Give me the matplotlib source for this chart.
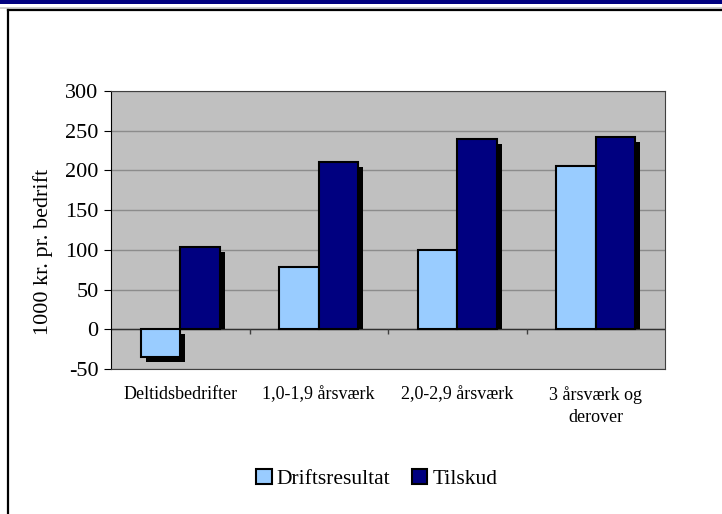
import numpy as np
import matplotlib.pyplot as plt
from matplotlib.patches import Rectangle, Patch
from matplotlib.transforms import ScaledTranslation

plt.rcParams["font.family"] = ["Liberation Serif", "DejaVu Serif"]

categories = ["Deltidsbedrifter", "1,0-1,9 årsværk", "2,0-2,9 årsværk", "3 årsværk og\nderover"]
driftsresultat = [-35, 78, 100, 205]
tilskud = [103, 211, 240, 242]
series_names = ["Driftsresultat", "Tilskud"]
series_colors = ["#99CCFF", "#000080"]
y_ticks = [-50, 0, 50, 100, 150, 200, 250, 300]

W, H = 722, 514
fig = plt.figure(figsize=(W / 100, H / 100), dpi=100)
fig.patch.set_facecolor("white")

# page decoration: navy band on top and framed chart area
fig.patches.append(Rectangle((0, 1 - 4 / H), 1, 4 / H, transform=fig.transFigure,
                             facecolor="#000080", edgecolor="none"))
fig.lines.append(plt.Line2D([0, 1], [1 - 7.5 / H, 1 - 7.5 / H], transform=fig.transFigure,
                            color="#C8C8C8", lw=1.2))
fig.lines.append(plt.Line2D([8 / W, 1], [1 - 10 / H, 1 - 10 / H], transform=fig.transFigure,
                            color="black", lw=1.6))
fig.lines.append(plt.Line2D([8 / W, 8 / W], [0, 1 - 10 / H], transform=fig.transFigure,
                            color="black", lw=1.6))

ax_l, ax_r, ax_t, ax_b = 111, 665, 91, 369
ax = fig.add_axes([ax_l / W, 1 - ax_b / H, (ax_r - ax_l) / W, (ax_b - ax_t) / H])
ax.set_facecolor("#C0C0C0")
ax.set_ylim(-50, 300)
ax.set_xlim(-0.5, len(categories) - 0.5)
ax.set_yticks(y_ticks)
ax.set_yticklabels([str(t) for t in y_ticks], fontsize=16)
ax.yaxis.grid(True, color="#8C8C8C", lw=1)
ax.set_axisbelow(True)

for s in ["top", "right", "bottom"]:
    ax.spines[s].set_color("#404040")
ax.spines["left"].set_color("black")

x = np.arange(len(categories))
bw = 1 / 3.5
px = (ax_b - ax_t) / 350.0  # pixels per data unit
d = 5 / px
shift = ax.transData + ScaledTranslation(5 / 100, 0, fig.dpi_scale_trans)

# category axis at zero with tick marks between groups
ax.axhline(0, color="#303030", lw=1, zorder=1.5)
ax.vlines(np.arange(len(categories) - 1) + 0.5, -d, 0, color="#404040", lw=1, zorder=1.5)

for i, (vals, col) in enumerate(zip([driftsresultat, tilskud], series_colors)):
    xs = x + (i - 0.5) * bw
    for xi, v in zip(xs, vals):
        if v >= 0:
            bottom, top = 0, v - d
        else:
            bottom, top = v - d, -d
        ax.bar(xi, top - bottom, bottom=bottom, width=bw, color="black", lw=0,
               transform=shift, zorder=2)
    ax.bar(xs, vals, width=bw, color=col, edgecolor="black", lw=1.5, zorder=3)

ax.set_xticks(x)
ax.set_xticklabels(categories, fontsize=13, linespacing=1.4)
ax.tick_params(axis="x", length=0, pad=12)
ax.tick_params(axis="y", length=5, pad=4)
ax.set_ylabel("1000 kr. pr. bedrift", fontsize=16)
ax.yaxis.set_label_coords(-0.104, 0.42)

handles = [Patch(facecolor=c, edgecolor="black", lw=1.5) for c in series_colors]
fig.legend(handles, series_names, loc="center", bbox_to_anchor=(377 / W, 1 - 479 / H),
           ncol=2, frameon=False, fontsize=15.5, handlelength=0.7, handleheight=0.7,
           handletextpad=0.25, columnspacing=1.0)

fig.savefig("out.png", dpi=100)
